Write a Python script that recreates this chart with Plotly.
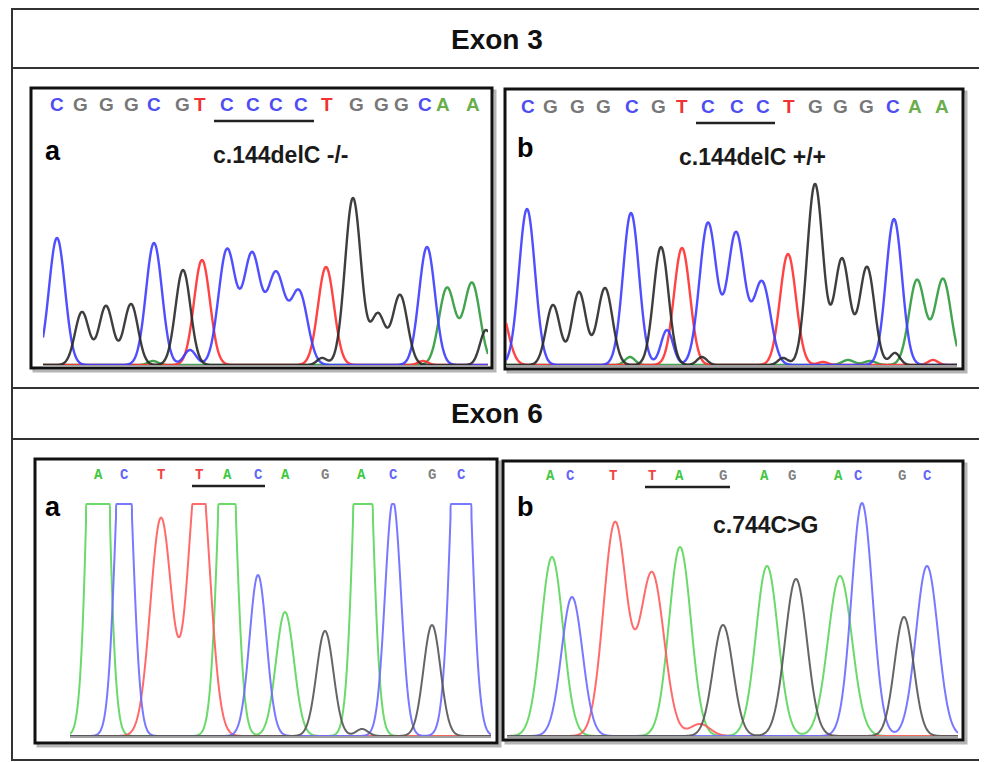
import numpy as np
import plotly.graph_objects as go

W, H = 987, 762
OFF = 8  # page body margin of the browser
FW, FH = W - OFF, H - OFF

# ---------------- data (scan position, signal height, channel, peak width) ----------------
# Exon 3, panel a (c.144delC -/-)
E3A_PEAK_POS = [57, 82, 106, 131, 153, 154, 183, 190, 202, 227, 252, 276, 299, 322, 326, 353, 378, 400, 423, 427, 447, 472, 486]
E3A_PEAK_HT = [127, 53, 59, 61, 4, 122, 95, 15, 105, 115, 110, 90, 73, 7, 98, 167, 50, 70, 4, 118, 77, 82, 35]
E3A_PEAK_CH = ["C", "G", "G", "G", "A", "C", "G", "C", "T", "C", "C", "C", "C", "G", "T", "G", "G", "G", "T", "C", "A", "A", "G"]
E3A_PEAK_WD = [8, 7, 7, 7, 5, 8, 7.5, 6, 8, 8.5, 8.5, 8.5, 8.5, 5, 8, 8, 7, 7.5, 5, 8, 8, 8, 6]
E3A_SPAN = [43, 488]
E3A_CALLS = list("CGGGCGTCCCCTGGGCAA")
E3A_CALL_POS = [57, 80, 106, 131, 154, 182, 200, 227, 253, 276, 301, 327, 356, 381, 401, 425, 443, 473]
E3A_UNDERLINE = [7, 10]

# Exon 3, panel b (c.144delC +/+)
E3B_PEAK_POS = [500, 527, 553, 579, 605, 630, 631, 661, 667, 682, 702, 708, 736, 762, 783, 788, 815, 823, 842, 848, 867, 870, 894, 895, 917, 933, 943]
E3B_PEAK_HT = [56, 156, 60, 73, 77, 8, 152, 118, 35, 117, 8, 142, 132, 83, 7, 111, 181, 3, 106, 5, 98, 4, 146, 12, 85, 5, 86]
E3B_PEAK_CH = ["T", "C", "G", "G", "G", "A", "C", "G", "C", "T", "G", "C", "C", "C", "G", "T", "G", "T", "G", "A", "G", "A", "C", "G", "A", "T", "A"]
E3B_PEAK_WD = [8, 8, 7, 7, 7.5, 5, 8, 7.5, 6, 8, 5, 8.5, 8.5, 8.5, 5, 8, 8, 5, 7.5, 6, 7.5, 6, 8, 5, 8, 5, 8]
E3B_SPAN = [506, 957]
E3B_CALLS = list("CGGGCGTCCCTGGGCAA")
E3B_CALL_POS = [528, 550, 577, 603, 632, 658, 682, 708, 737, 763, 789, 815, 840, 866, 893, 915, 942]
E3B_UNDERLINE = [7, 9]

# Exon 6, panel a (display saturates at E6A_DISPLAY_MAX)
E6A_PEAK_POS = [98, 124, 161, 199, 227, 258, 285, 325, 362, 363, 393, 432, 461]
E6A_PEAK_HT = [608, 357, 218, 280, 391, 161, 124, 105, 7, 445, 235, 111, 438]
E6A_PEAK_CH = ["A", "C", "T", "T", "A", "C", "A", "G", "G", "A", "C", "G", "C"]
E6A_PEAK_WD = [8.3, 8.1, 10.6, 10.6, 8.3, 8.5, 9, 8.5, 6, 8.3, 8, 8.5, 8.9]
E6A_SPAN = [70, 491]
E6A_DISPLAY_MAX = 232
E6A_CALLS = list("ACTTACAGACGC")
E6A_CALL_POS = [98, 124, 161, 199, 227, 258, 285, 325, 361, 393, 432, 461]
E6A_UNDERLINE = [3, 5]

# Exon 6, panel b (c.744C>G)
E6B_PEAK_POS = [552, 572, 615, 652, 680, 700, 723, 767, 796, 840, 862, 904, 927]
E6B_PEAK_HT = [179, 139, 213, 163, 189, 12, 111, 170, 157, 160, 233, 119, 170]
E6B_PEAK_CH = ["A", "C", "T", "T", "A", "T", "G", "A", "G", "A", "C", "G", "C"]
E6B_PEAK_WD = [11, 10.5, 11.5, 12, 11, 10, 10, 11, 11, 12, 10.5, 9.5, 11]
E6B_SPAN = [507, 958]
E6B_CALLS = list("ACTTAGAGACGC")
E6B_CALL_POS = [550, 570, 613, 652, 679, 723, 764, 792, 838, 858, 902, 927]
E6B_UNDERLINE = [3, 5]

SECTION_TITLES = ["Exon 3", "Exon 6"]
PANEL_LETTERS = ["a", "b", "a", "b"]
MUTATION_LABELS = ["c.144delC -/-", "c.144delC +/+", "", "c.744C>G"]

# ---------------- styles ----------------
TRACE_COL_E3 = {"A": "#2e9b3c", "C": "#3c3cff", "G": "#2a2a2a", "T": "#ff3030"}
TRACE_COL_E6 = {"A": "#5cd65c", "C": "#6b6bff", "G": "#555555", "T": "#ff5c5c"}
CALL_COL_E3 = {"A": "#6aae4c", "C": "#4d4df2", "G": "#777777", "T": "#f03232"}
CALL_COL_E6 = {"A": "#3fc83f", "C": "#6464f8", "G": "#808080", "T": "#f04444"}


def X(p):
    return (p - OFF) / FW


def Y(p):
    return 1 - (p - OFF) / FH


panels = [
    dict(pos=E3A_PEAK_POS, ht=E3A_PEAK_HT, ch=E3A_PEAK_CH, wd=E3A_PEAK_WD, span=E3A_SPAN, clip=None,
         calls=E3A_CALLS, call_pos=E3A_CALL_POS, ul=E3A_UNDERLINE,
         box=(31, 88, 492, 368), base=365, call_y=105, ul_y=121, ul_m=13,
         tcol=TRACE_COL_E3, ccol=CALL_COL_E3, lw=2.4, cfont=("Liberation Sans", 19, True),
         letter_xy=(53, 151), label_xy=(281, 155)),
    dict(pos=E3B_PEAK_POS, ht=E3B_PEAK_HT, ch=E3B_PEAK_CH, wd=E3B_PEAK_WD, span=E3B_SPAN, clip=None,
         calls=E3B_CALLS, call_pos=E3B_CALL_POS, ul=E3B_UNDERLINE,
         box=(505, 89, 963, 369), base=365, call_y=107, ul_y=123, ul_m=12,
         tcol=TRACE_COL_E3, ccol=CALL_COL_E3, lw=2.4, cfont=("Liberation Sans", 19, True),
         letter_xy=(525, 148), label_xy=(752, 157)),
    dict(pos=E6A_PEAK_POS, ht=E6A_PEAK_HT, ch=E6A_PEAK_CH, wd=E6A_PEAK_WD, span=E6A_SPAN, clip=E6A_DISPLAY_MAX,
         calls=E6A_CALLS, call_pos=E6A_CALL_POS, ul=E6A_UNDERLINE,
         box=(35, 459, 497, 743), base=736, call_y=475, ul_y=486, ul_m=7,
         tcol=TRACE_COL_E6, ccol=CALL_COL_E6, lw=2.0, cfont=("Liberation Mono", 14, True),
         letter_xy=(53, 507), label_xy=None),
    dict(pos=E6B_PEAK_POS, ht=E6B_PEAK_HT, ch=E6B_PEAK_CH, wd=E6B_PEAK_WD, span=E6B_SPAN, clip=None,
         calls=E6B_CALLS, call_pos=E6B_CALL_POS, ul=E6B_UNDERLINE,
         box=(503, 461, 963, 740), base=736, call_y=476, ul_y=487, ul_m=7,
         tcol=TRACE_COL_E6, ccol=CALL_COL_E6, lw=2.0, cfont=("Liberation Mono", 14, True),
         letter_xy=(525, 507), label_xy=(766, 525)),
]

fig = go.Figure()
shapes = []
annotations = []
layout_axes = {}

# outer frame and section separators
shapes.append(dict(type="rect", xref="paper", yref="paper", x0=X(12), x1=X(985), y0=Y(760), y1=Y(9),
                   line=dict(color="#333333", width=2), layer="below"))
for yy in (68, 388, 439):
    shapes.append(dict(type="line", xref="paper", yref="paper", x0=X(12), x1=X(985), y0=Y(yy), y1=Y(yy),
                       line=dict(color="#333333", width=2)))
for title, ty in zip(SECTION_TITLES, (40, 413)):
    annotations.append(dict(text="<b>%s</b>" % title, xref="paper", yref="paper", x=X(497), y=Y(ty),
                            showarrow=False, font=dict(family="Liberation Sans", size=28, color="#111111"),
                            xanchor="center", yanchor="middle"))

order = ["A", "T", "C", "G"]
for i, p in enumerate(panels):
    k = i + 1
    xa = "x" if k == 1 else "x%d" % k
    ya = "y" if k == 1 else "y%d" % k
    L, T, R, B = p["box"]
    s0, s1 = p["span"]
    # box shadow + frame
    shapes.append(dict(type="rect", xref="paper", yref="paper", x0=X(L + 3), x1=X(R + 3), y0=Y(B + 3), y1=Y(T + 3),
                       line=dict(color="#b5b5b5", width=3), layer="below"))
    shapes.append(dict(type="rect", xref="paper", yref="paper", x0=X(L), x1=X(R), y0=Y(B), y1=Y(T),
                       line=dict(color="#111111", width=3), fillcolor="white", layer="below"))

    xs = np.arange(s0, s1 + 0.01, 0.5)
    pos = np.array(p["pos"], float)
    ht = np.array(p["ht"], float)
    wd = np.array(p["wd"], float)
    ch = np.array(p["ch"])
    for c in order:
        m = ch == c
        if not m.any():
            continue
        ys = (ht[m][None, :] * np.exp(-(xs[:, None] - pos[m][None, :]) ** 2 / (2 * wd[m][None, :] ** 2))).sum(axis=1)
        if p["clip"] is not None:
            ys = np.minimum(ys, p["clip"])
        fig.add_trace(go.Scatter(x=xs, y=ys, mode="lines", xaxis=xa, yaxis=ya, showlegend=False,
                                 hoverinfo="skip", opacity=0.9,
                                 line=dict(color=p["tcol"][c], width=p["lw"], shape="spline")))

    xname = "xaxis" if k == 1 else "xaxis%d" % k
    yname = "yaxis" if k == 1 else "yaxis%d" % k
    layout_axes[xname] = dict(domain=[X(s0), X(s1)], range=[s0, s1], anchor=ya, showgrid=False, zeroline=False,
                              showticklabels=False, ticks="", showline=True, linecolor="#a0a0a0", linewidth=2,
                              fixedrange=True)
    layout_axes[yname] = dict(domain=[Y(p["base"]), Y(T + 3)], range=[0, p["base"] - T - 3], anchor=xa,
                              showgrid=False, zeroline=False, showticklabels=False, ticks="", showline=False,
                              fixedrange=True)

    fam, size, bold = p["cfont"]
    for letter, xp in zip(p["calls"], p["call_pos"]):
        annotations.append(dict(text=("<b>%s</b>" % letter) if bold else letter, xref=xa, yref="paper",
                                x=xp, y=Y(p["call_y"]), showarrow=False, xanchor="center", yanchor="middle",
                                font=dict(family=fam, size=size, color=p["ccol"][letter])))
    a, b = p["ul"]
    shapes.append(dict(type="line", xref=xa, yref="paper", x0=p["call_pos"][a] - p["ul_m"],
                       x1=p["call_pos"][b] + p["ul_m"], y0=Y(p["ul_y"]), y1=Y(p["ul_y"]),
                       line=dict(color="#222222", width=2.5)))
    lx, ly = p["letter_xy"]
    annotations.append(dict(text="<b>%s</b>" % PANEL_LETTERS[i], xref="paper", yref="paper", x=X(lx), y=Y(ly),
                            showarrow=False, xanchor="center", yanchor="middle",
                            font=dict(family="Liberation Sans", size=27, color="#000000")))
    if p["label_xy"] is not None and MUTATION_LABELS[i]:
        mx, my = p["label_xy"]
        annotations.append(dict(text="<b>%s</b>" % MUTATION_LABELS[i], xref="paper", yref="paper", x=X(mx),
                                y=Y(my), showarrow=False, xanchor="center", yanchor="middle",
                                font=dict(family="Liberation Sans", size=23, color="#1a1a1a")))

fig.update_layout(width=FW, height=FH, margin=dict(l=0, r=0, t=0, b=0), paper_bgcolor="white",
                  plot_bgcolor="rgba(0,0,0,0)", shapes=shapes, annotations=annotations, showlegend=False,
                  **layout_axes)
fig.write_html("out.html", config={"displayModeBar": False})
